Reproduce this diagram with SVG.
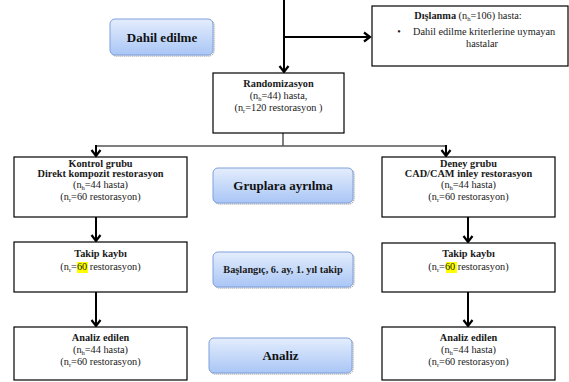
<svg xmlns="http://www.w3.org/2000/svg" width="569" height="382" viewBox="0 0 569 382" font-family="'Liberation Serif', 'DejaVu Serif', 'Times New Roman', serif">
<defs>
<linearGradient id="blueg" x1="0" y1="0" x2="0" y2="1">
<stop offset="0" stop-color="#e4edfc"/>
<stop offset="1" stop-color="#a9c6f6"/>
</linearGradient>
<marker id="chev" markerUnits="userSpaceOnUse" markerWidth="12" markerHeight="12" viewBox="-8 -6 10 12" refX="0" refY="0" orient="auto">
<path d="M-6,-4.5 L0,0 L-6,4.5" fill="none" stroke="#000" stroke-width="2.2"/>
</marker>
</defs>
<style>
text{font-family:'Liberation Serif','DejaVu Serif','Times New Roman',serif;fill:#1a1a1a;}
.box{fill:#fff;stroke:#000;stroke-width:1.2;}
.blue{fill:url(#blueg);stroke:#7f9fdc;stroke-width:1;}
.bshadow{fill:none;stroke:#777;stroke-width:1;stroke-dasharray:1 1;}
.t{font-size:10.3px;text-anchor:middle;}
.b{font-weight:bold;}
.sub{font-size:6.5px;}
.big{font-size:13px;font-weight:bold;text-anchor:middle;fill:#111;}
.conn{fill:none;stroke:#000;stroke-width:2;}
.gray{fill:none;stroke:#555;stroke-width:1.5;}
.hl{fill:#ffff00;}
</style>

<g id="connectors">
<line class="conn" x1="284" y1="0" x2="284" y2="72" marker-end="url(#chev)"/>
<line class="conn" x1="284" y1="37" x2="370" y2="37" marker-end="url(#chev)"/>
<line class="gray" x1="283" y1="133" x2="283" y2="146"/>
<line class="gray" x1="96" y1="146" x2="446" y2="146"/>
<line class="conn" x1="96" y1="145" x2="96" y2="156" marker-end="url(#chev)"/>
<line class="conn" x1="446" y1="145" x2="446" y2="156" marker-end="url(#chev)"/>
<line class="conn" x1="96" y1="217" x2="96" y2="241" marker-end="url(#chev)"/>
<line class="conn" x1="468" y1="217" x2="468" y2="242" marker-end="url(#chev)"/>
<line class="conn" x1="96" y1="292" x2="96" y2="326" marker-end="url(#chev)"/>
<line class="conn" x1="468" y1="292" x2="468" y2="326" stroke-width="3" marker-end="url(#chev)"/>
</g>

<g id="dahil">
<rect class="bshadow" x="111" y="20" width="103" height="36" rx="5"/>
<rect class="blue" x="110" y="19" width="103" height="36" rx="5"/>
<text class="big" x="162" y="42" font-size="15.5">Dahil edilme</text>
</g>

<g id="dislanma">
<rect class="box" x="372" y="6" width="196" height="60"/>
<text class="t" x="468" y="19"><tspan class="b">Dışlanma</tspan> (n<tspan class="sub" dy="2">h</tspan><tspan dy="-2">=106) hasta:</tspan></text>
<text x="399" y="35" font-size="10" text-anchor="middle">•</text>
<text x="413" y="35" font-size="10.3">Dahil edilme kriterlerine uymayan</text>
<text class="t" x="482" y="47">hastalar</text>
</g>

<g id="random">
<rect class="box" x="213" y="73" width="131" height="60"/>
<text class="t b" x="278.5" y="87">Randomizasyon</text>
<text class="t" x="278.5" y="99">(n<tspan class="sub" dy="2">h</tspan><tspan dy="-2">=44) hasta,</tspan></text>
<text class="t" x="278.5" y="111">(n<tspan class="sub" dy="2">r</tspan><tspan dy="-2">=120 restorasyon )</tspan></text>
</g>

<g id="kontrol">
<rect class="box" x="14" y="157" width="173" height="60"/>
<text class="t b" x="100.5" y="167">Kontrol grubu</text>
<text class="t b" x="100.5" y="177" font-size="11">Direkt kompozit restorasyon</text>
<text class="t" x="100.5" y="188">(n<tspan class="sub" dy="2">h</tspan><tspan dy="-2">=44 hasta)</tspan></text>
<text class="t" x="100.5" y="199.5">(n<tspan class="sub" dy="2">r</tspan><tspan dy="-2">=60 restorasyon)</tspan></text>
</g>

<g id="deney">
<rect class="box" x="382" y="157" width="173" height="60"/>
<text class="t b" x="468.5" y="167">Deney grubu</text>
<text class="t b" x="468.5" y="177" font-size="11">CAD/CAM inley restorasyon</text>
<text class="t" x="468.5" y="188">(n<tspan class="sub" dy="2">h</tspan><tspan dy="-2">=44 hasta)</tspan></text>
<text class="t" x="468.5" y="199.5">(n<tspan class="sub" dy="2">r</tspan><tspan dy="-2">=60 restorasyon)</tspan></text>
</g>

<g id="gruplara">
<rect class="bshadow" x="214" y="169" width="140" height="35" rx="5"/>
<rect class="blue" x="213" y="168" width="140" height="35" rx="5"/>
<text class="big" x="283" y="190" font-size="12.5">Gruplara ayrılma</text>
</g>

<g id="takip-sol">
<rect class="box" x="14" y="242" width="173" height="50"/>
<rect class="hl" x="77" y="262" width="11" height="11"/>
<text class="t b" x="100.5" y="257">Takip kaybı</text>
<text class="t" x="100.5" y="270">(n<tspan class="sub" dy="2">r</tspan><tspan dy="-2">=60 restorasyon)</tspan></text>
</g>

<g id="takip-sag">
<rect class="box" x="382" y="243" width="173" height="49"/>
<rect class="hl" x="446" y="262" width="11" height="11"/>
<text class="t b" x="468.5" y="257">Takip kaybı</text>
<text class="t" x="468.5" y="270">(n<tspan class="sub" dy="2">r</tspan><tspan dy="-2">=60 restorasyon)</tspan></text>
</g>

<g id="baslangic">
<rect class="bshadow" x="214" y="253" width="140" height="35" rx="5"/>
<rect class="blue" x="213" y="252" width="140" height="35" rx="5"/>
<text class="t b" x="283" y="273" font-size="10.5">Başlangıç, 6. ay, 1. yıl takip</text>
</g>

<g id="analiz-sol">
<rect class="box" x="14" y="327" width="173" height="53"/>
<text class="t b" x="100.5" y="341">Analiz edilen</text>
<text class="t" x="100.5" y="353">(n<tspan class="sub" dy="2">h</tspan><tspan dy="-2">=44 hasta)</tspan></text>
<text class="t" x="100.5" y="365">(n<tspan class="sub" dy="2">r</tspan><tspan dy="-2">=60 restorasyon)</tspan></text>
</g>

<g id="analiz-sag">
<rect class="box" x="382" y="327" width="173" height="53"/>
<text class="t b" x="468.5" y="341">Analiz edilen</text>
<text class="t" x="468.5" y="353">(n<tspan class="sub" dy="2">h</tspan><tspan dy="-2">=44 hasta)</tspan></text>
<text class="t" x="468.5" y="365">(n<tspan class="sub" dy="2">r</tspan><tspan dy="-2">=60 restorasyon)</tspan></text>
</g>

<g id="analiz">
<rect class="bshadow" x="210" y="339" width="143" height="35" rx="5"/>
<rect class="blue" x="209" y="338" width="143" height="35" rx="5"/>
<text class="big" x="280.5" y="360" font-size="12.5">Analiz</text>
</g>
</svg>
